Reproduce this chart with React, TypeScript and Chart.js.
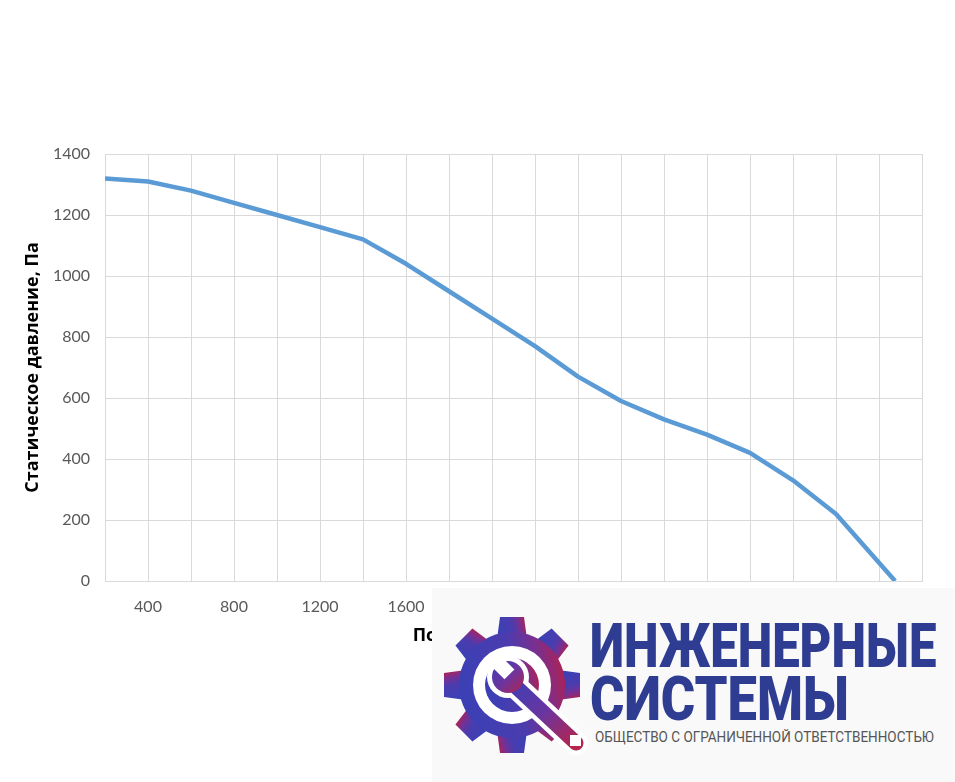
import React, { useEffect, useRef } from 'react';
import { Chart, registerables } from 'chart.js';

Chart.register(...registerables);

// Airflow (x) and static pressure (y)
const flowValues = [200, 400, 600, 800, 1000, 1200, 1400, 1600, 1800, 2000, 2200, 2400, 2600, 2800, 3000, 3200, 3400, 3600, 3875];
const pressureValues = [1320, 1310, 1280, 1240, 1200, 1160, 1120, 1040, 950, 860, 770, 670, 590, 530, 480, 420, 330, 220, 0];

const xMin = 200;
const xMax = 4000;
const xStep = 200;
const xLabelEvery = 400;
const yMin = 0;
const yMax = 1400;
const yStep = 200;

const yTitle = 'Статическое давление, Па';
const xTitle = 'Подача воздуха, м³/ч';
const logoLine1 = 'ИНЖЕНЕРНЫЕ';
const logoLine2 = 'СИСТЕМЫ';
const logoLine3 = 'ОБЩЕСТВО С ОГРАНИЧЕННОЙ ОТВЕТСТВЕННОСТЬЮ';

function Gear() {
  const teeth = [];
  for (let i = 0; i < 8; i++) {
    const a = i * 45;
    teeth.push(
      <path key={i} d="M -15 -46 L -12 -68 L 12 -68 L 15 -46 Z" transform={`rotate(${a})`} fill="url(#gearGrad)" />
    );
  }
  return (
    <svg width={150} height={160} viewBox="0 0 150 160" style={{ position: 'absolute', left: 8, top: 17 }}>
      <defs>
        <linearGradient id="gearGrad" x1="0" y1="0.4" x2="1" y2="0.2">
          <stop offset="0" stopColor="#3b40b5" />
          <stop offset="0.5" stopColor="#4b3cae" />
          <stop offset="0.75" stopColor="#7a2f8f" />
          <stop offset="1" stopColor="#b5204a" />
        </linearGradient>
        <linearGradient id="wrenchGrad" x1="0" y1="0" x2="1" y2="1">
          <stop offset="0" stopColor="#3f3fb4" />
          <stop offset="0.5" stopColor="#6a35a0" />
          <stop offset="1" stopColor="#b5244d" />
        </linearGradient>
      </defs>
      <g transform="translate(72,80)">
        {teeth}
        <circle r={53} fill="url(#gearGrad)" />
        <circle r={39} fill="#ffffff" />
        <circle r={27} fill="url(#gearGrad)" />
      </g>
      <g>
        <line x1={72} y1={78} x2={136} y2={138} stroke="#ffffff" strokeWidth={24} strokeLinecap="round" />
        <circle cx={68} cy={72} r={21} fill="#ffffff" />
        <line x1={72} y1={78} x2={136} y2={138} stroke="url(#wrenchGrad)" strokeWidth={15} strokeLinecap="round" />
        <circle cx={68} cy={72} r={16} fill="url(#wrenchGrad)" />
        <rect x={61} y={46} width={14} height={24} fill="#ffffff" transform="rotate(-45 68 68)" />
        <rect x={130} y={130} width={11} height={11} fill="#ffffff" />
      </g>
    </svg>
  );
}

export default function App() {
  const canvasRef = useRef<HTMLCanvasElement | null>(null);

  useEffect(() => {
    if (!canvasRef.current) return;
    const points = flowValues.map((x, i) => ({ x, y: pressureValues[i] }));
    const chart = new Chart(canvasRef.current, {
      type: 'line',
      data: {
        datasets: [
          {
            data: points,
            borderColor: '#5b9bd5',
            borderWidth: 4.5,
            pointRadius: 0,
            tension: 0,
            borderJoinStyle: 'round',
            borderCapStyle: 'butt',
            fill: false,
          },
        ],
      },
      options: {
        animation: false,
        responsive: true,
        maintainAspectRatio: false,
        layout: { padding: { top: 146, left: 10, right: 25, bottom: 123 } },
        plugins: { legend: { display: false }, tooltip: { enabled: false } },
        scales: {
          x: {
            type: 'linear',
            min: xMin,
            max: xMax,
            afterFit: (scale: any) => {
              scale.height = 70;
            },
            grid: { color: '#d9d9d9', lineWidth: 1, drawTicks: false },
            border: { display: true, color: '#d9d9d9' },
            ticks: {
              stepSize: xStep,
              autoSkip: false,
              maxRotation: 0,
              padding: 16,
              color: '#595959',
              font: { family: 'Lato', size: 16 },
              callback: (v: any) => (v % xLabelEvery === 0 && v < xMax ? String(v) : ''),
            },
            title: {
              display: true,
              text: xTitle,
              color: '#000000',
              font: { family: 'Open Sans', size: 18, weight: 'bold' },
            },
          },
          y: {
            min: yMin,
            max: yMax,
            afterFit: (scale: any) => {
              scale.width = 87;
            },
            grid: { color: '#d9d9d9', lineWidth: 1, drawTicks: false },
            border: { display: true, color: '#d9d9d9' },
            ticks: {
              stepSize: yStep,
              padding: 15,
              color: '#595959',
              font: { family: 'Lato', size: 16 },
              callback: (v: any) => String(v),
            },
            title: {
              display: true,
              text: yTitle,
              color: '#000000',
              font: { family: 'Open Sans', size: 18, weight: 'bold' },
            },
          },
        },
      },
    });
    return () => chart.destroy();
  }, []);

  const bigText: React.CSSProperties = {
    position: 'absolute',
    left: 158,
    fontFamily: 'Roboto',
    fontWeight: 900,
    fontSize: 61,
    lineHeight: 1,
    color: '#2e3d91',
    whiteSpace: 'nowrap',
    transformOrigin: 'left top',
  };

  return (
    <div style={{ position: 'relative', width: 939, height: 766 }}>
      <canvas ref={canvasRef} />
      <div
        style={{
          position: 'fixed',
          left: 432,
          top: 588,
          right: 0,
          bottom: 0,
          background: '#f9f9f9',
          overflow: 'hidden',
        }}
      >
        <Gear />
        <div style={{ ...bigText, top: 28, transform: 'scaleX(0.805)' }}>{logoLine1}</div>
        <div style={{ ...bigText, top: 81, transform: 'scaleX(0.86)' }}>{logoLine2}</div>
        <div
          style={{
            position: 'absolute',
            left: 163,
            top: 142,
            fontFamily: 'Roboto',
            fontWeight: 400,
            fontSize: 15,
            lineHeight: 1,
            color: '#555555',
            whiteSpace: 'nowrap',
            transform: 'scaleX(0.9)',
            transformOrigin: 'left top',
          }}
        >
          {logoLine3}
        </div>
      </div>
    </div>
  );
}
